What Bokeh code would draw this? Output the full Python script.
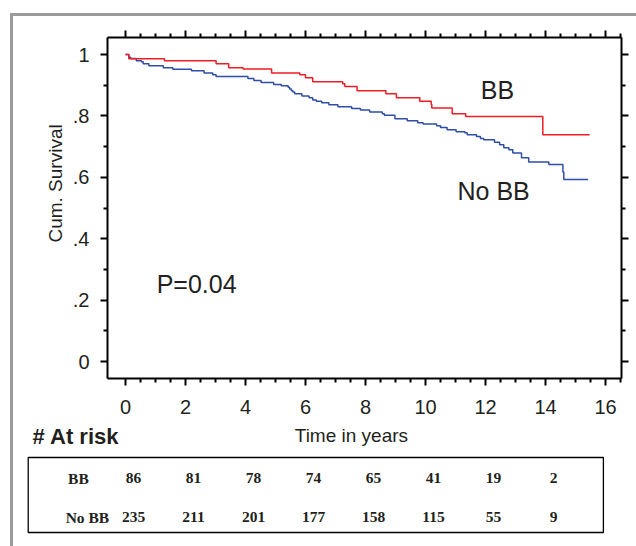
from bokeh.plotting import figure
from bokeh.models import (LinearAxis, Range1d, FixedTicker, Label, LabelSet,
                          BoxAnnotation, ColumnDataSource)
from bokeh.embed import file_html
from bokeh.resources import INLINE

# ---------------- data ----------------
bb_time = [0, 0.11, 1.30, 3.02, 3.44, 3.92, 4.87, 5.81, 6.00, 6.24, 7.24, 7.31,
           7.72, 8.68, 9.03, 9.81, 10.19, 10.21, 10.89, 11.34, 13.91, 15.47]
bb_surv = [1.0, 0.986, 0.980, 0.970, 0.957, 0.953, 0.940, 0.934, 0.924, 0.911,
           0.905, 0.896, 0.882, 0.872, 0.859, 0.848, 0.837, 0.826, 0.807, 0.798,
           0.739, 0.739]

nobb_time = [0, 0.11, 0.17, 0.36, 0.53, 0.59, 0.78, 1.26, 1.58, 2.20, 2.62, 2.91,
             3.02, 4.08, 4.28, 4.52, 4.94, 5.19, 5.42, 5.47, 5.53, 5.58, 5.64,
             5.88, 6.12, 6.24, 6.36, 6.54, 6.78, 7.08, 7.54, 7.83, 8.14, 8.56,
             8.63, 8.98, 9.39, 9.74, 9.92, 10.37, 10.50, 10.72, 11.02, 11.31,
             11.39, 11.70, 11.83, 11.94, 12.30, 12.47, 12.61, 12.78, 12.91,
             13.20, 13.44, 14.11, 14.58, 14.61, 15.42]
nobb_surv = [1.0, 0.991, 0.987, 0.980, 0.976, 0.970, 0.963, 0.957, 0.952, 0.947,
             0.940, 0.934, 0.928, 0.922, 0.915, 0.909, 0.902, 0.898, 0.893, 0.888,
             0.882, 0.878, 0.872, 0.865, 0.859, 0.852, 0.848, 0.843, 0.836, 0.830,
             0.824, 0.819, 0.813, 0.807, 0.802, 0.791, 0.784, 0.778, 0.774, 0.768,
             0.762, 0.755, 0.748, 0.745, 0.739, 0.733, 0.726, 0.722, 0.714, 0.706,
             0.696, 0.690, 0.679, 0.664, 0.650, 0.642, 0.617, 0.593, 0.593]

risk_times = [0, 2, 4, 6, 8, 10, 12, 14]
risk_bb = ["86", "81", "78", "74", "65", "41", "19", "2"]
risk_nobb = ["235", "211", "201", "177", "158", "115", "55", "9"]

x_ticks = [0, 2, 4, 6, 8, 10, 12, 14, 16]
x_tick_labels = ["0", "2", "4", "6", "8", "10", "12", "14", "16"]
x_minor = [0.5, 1, 1.5, 2.5, 3, 3.5, 4.5, 5, 5.5, 6.5, 7, 7.5, 8.5, 9, 9.5,
           10.5, 11, 11.5, 12.5, 13, 13.5, 14.5, 15, 15.5, 16.5]
y_ticks = [0, 0.2, 0.4, 0.6, 0.8, 1.0]
y_tick_labels = ["0", ".2", ".4", ".6", ".8", "1"]
y_minor = [0.1, 0.3, 0.5, 0.7, 0.9]

# ---------------- figure ----------------
SANS = "Liberation Sans"
SERIF = "Liberation Serif"
TXT = "#231f20"

# plot box (the axes) inside a canvas-wide frame
X0, X1 = -0.6, 16.533
Y0, Y1 = -0.0554, 1.0554

p = figure(width=636, height=546, output_backend="svg", toolbar_location=None,
           x_range=Range1d(-4.1667, 17.0333), y_range=Range1d(-0.6026, 1.1759),
           x_axis_location=None, y_axis_location=None,
           min_border=0)
p.grid.visible = False
p.outline_line_color = None
p.background_fill_color = "white"
p.border_fill_color = "white"


def style_axis(ax, labels=True):
    ax.axis_line_width = 2
    ax.axis_line_color = "black"
    ax.major_tick_out = 7
    ax.major_tick_in = 0
    ax.minor_tick_out = 4
    ax.minor_tick_in = 0
    ax.major_tick_line_width = 2
    ax.minor_tick_line_width = 2
    ax.major_label_text_font = SANS
    ax.major_label_text_color = TXT
    if labels:
        ax.major_label_text_font_size = "20px"
    else:
        ax.major_label_text_font_size = "1px"
        ax.major_label_standoff = 0


xb = LinearAxis(ticker=FixedTicker(ticks=x_ticks, minor_ticks=x_minor),
                major_label_overrides=dict(zip(x_ticks, x_tick_labels)),
                fixed_location=Y0, bounds=(X0, X1))
style_axis(xb)
xb.major_label_standoff = 14
p.add_layout(xb, "below")

xt = LinearAxis(ticker=FixedTicker(ticks=x_ticks, minor_ticks=x_minor),
                major_label_overrides={t: "" for t in x_ticks},
                fixed_location=Y1, bounds=(X0, X1))
style_axis(xt, labels=False)
p.add_layout(xt, "above")

yl = LinearAxis(ticker=FixedTicker(ticks=y_ticks, minor_ticks=y_minor),
                major_label_overrides=dict(zip(y_ticks, y_tick_labels)),
                fixed_location=X0, bounds=(Y0, Y1))
style_axis(yl)
yl.major_label_standoff = 11
p.add_layout(yl, "left")

yr = LinearAxis(ticker=FixedTicker(ticks=y_ticks, minor_ticks=y_minor),
                major_label_overrides={t: "" for t in y_ticks},
                fixed_location=X1, bounds=(Y0, Y1))
style_axis(yr, labels=False)
p.add_layout(yr, "right")

# ---------------- curves ----------------
p.step(nobb_time, nobb_surv, mode="after", line_color="#2f4ea6", line_width=1.5)
p.step(bb_time, bb_surv, mode="after", line_color="#ee1c24", line_width=1.5)

# ---------------- texts ----------------
def lab(x, y, text, size, font=SANS, style="normal", align="center",
        baseline="middle", angle=0.0):
    p.add_layout(Label(x=x, y=y, text=text, text_font=font, text_font_size=size,
                       text_font_style=style, text_color=TXT, text_align=align,
                       text_baseline=baseline, angle=angle))

lab(12.4, 0.883, "BB", "25px")
lab(12.27, 0.557, "No BB", "25px")
lab(2.37, 0.254, "P=0.04", "25px")
lab(-2.33, 0.58, "Cum. Survival", "19px", angle=1.5708)
lab(7.53, -0.241, "Time in years", "19px")
lab(-3.1, -0.244, "# At risk", "22px", style="bold", align="left")

# at-risk table
src = ColumnDataSource(dict(t=risk_times, bb=risk_bb, nobb=risk_nobb))
for col, yrow in (("bb", -0.381), ("nobb", -0.508)):
    p.add_layout(LabelSet(x="t", y=yrow, text=col, source=src, x_offset=8,
                          text_font=SERIF, text_font_style="bold",
                          text_font_size="15.5px", text_color=TXT,
                          text_align="center", text_baseline="middle"))
lab(-1.57, -0.381, "BB", "15.5px", font=SERIF, style="bold")
lab(-1.27, -0.508, "No BB", "15.5px", font=SERIF, style="bold")

p.add_layout(BoxAnnotation(left=-3.243, right=15.93, top=-0.3127, bottom=-0.557,
                           fill_color=None, line_color="black", line_alpha=1.0,
                           line_width=1.3))

# outer gray frame (top and left bars)
GRAY = "#9b9b9b"
p.add_layout(BoxAnnotation(left=-3.85, right=17.0333, top=1.1352, bottom=1.1254,
                           fill_color=GRAY, fill_alpha=1.0, line_color=None))
p.add_layout(BoxAnnotation(left=-3.85, right=-3.75, top=1.1352, bottom=-0.6026,
                           fill_color=GRAY, fill_alpha=1.0, line_color=None))

open("out.html", "w").write(file_html(p, INLINE))
